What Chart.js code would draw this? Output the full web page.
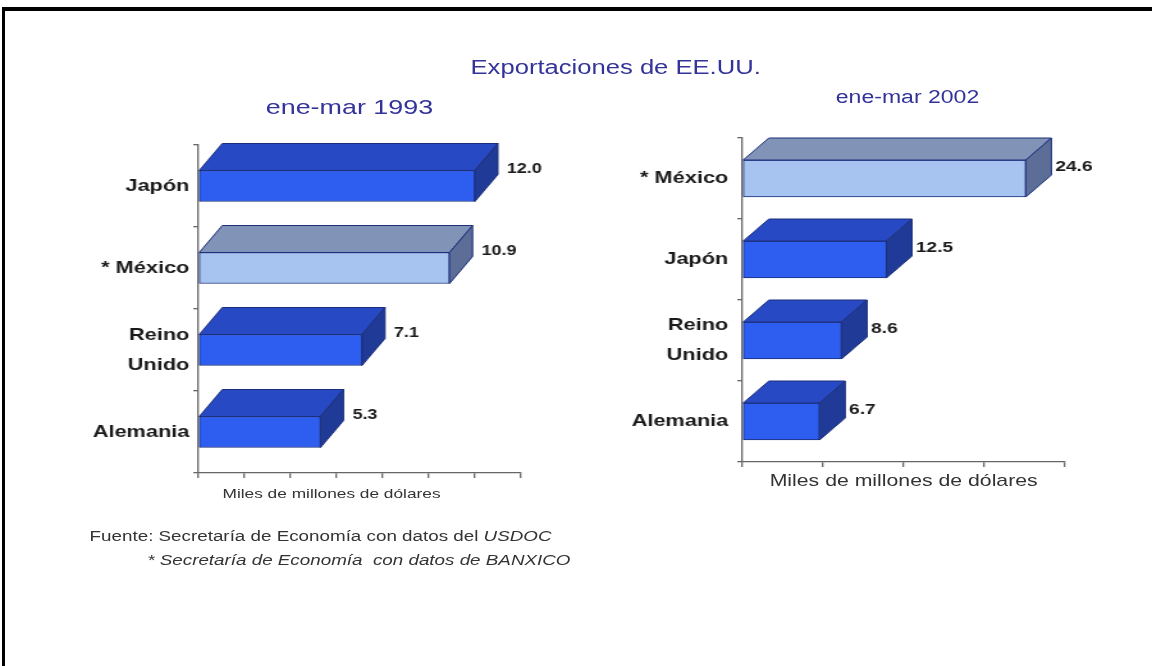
<!DOCTYPE html>
<html>
<head>
<meta charset="utf-8">
<script src="https://cdn.jsdelivr.net/npm/chart.js@4.4.1/dist/chart.umd.min.js"></script>
<style>
  html, body { margin: 0; padding: 0; background: #fff; width: 1152px; height: 666px; overflow: hidden; }
  #frame { position: absolute; left: 2px; top: 7px; width: 1200px; height: 700px;
           border-top: 4px solid #000; border-left: 3px solid #000; }
  /* the source slide is stretched sideways, so the whole stage is too */
  #stage { position: absolute; left: 0; top: 0; width: 900px; height: 666px;
           transform: scaleX(1.28); transform-origin: 0 0;
           font-family: Arial, "Liberation Sans", sans-serif; }
  .txt { position: absolute; white-space: nowrap; transform: translate(-50%, -50%); }
  .left { transform: translate(0, -50%); }
  canvas { position: absolute; }
</style>
</head>
<body>
<div id="frame"></div>
<div id="stage">
  <div class="txt" style="left:481px;top:67px;font-size:20px;color:#333399">Exportaciones de EE.UU.</div>
  <div class="txt" style="left:273px;top:107px;font-size:21px;color:#333399">ene-mar 1993</div>
  <div class="txt" style="left:709px;top:97px;font-size:18px;color:#333399">ene-mar 2002</div>

  <canvas id="chart1993" width="400" height="400" style="left:40px;top:110px"></canvas>
  <canvas id="chart2002" width="420" height="400" style="left:460px;top:100px"></canvas>

  <div class="txt" style="left:259px;top:493px;font-size:13.5px;color:#333">Miles de millones de dólares</div>
  <div class="txt" style="left:706px;top:481px;font-size:16.6px;color:#333">Miles de millones de dólares</div>

  <div class="txt left" style="left:70px;top:536px;font-size:14.7px;color:#333">Fuente: Secretaría de Economía con datos del <i>USDOC</i></div>
  <div class="txt left" style="left:115px;top:560px;font-size:14.7px;color:#333"><i>* Secretaría de Economía &nbsp;con datos de BANXICO</i></div>
</div>

<script>
// ene-mar 1993
const categories1993 = ['Japón', '* México', ['Reino', 'Unido'], 'Alemania'];
const values1993 = [12.0, 10.9, 7.1, 5.3];
const axisMax1993 = 14;
const axisStep1993 = 2;

// ene-mar 2002
const categories2002 = ['* México', 'Japón', ['Reino', 'Unido'], 'Alemania'];
const values2002 = [24.6, 12.5, 8.6, 6.7];
const axisMax2002 = 28;
const axisStep2002 = 7;

const FONT = 'Arial, "Liberation Sans", sans-serif';

// face colours: front, top, side
const blueFaces = ['#2d5ef0', '#2749c4', '#1f3a97'];
const mexFaces = ['#a7c3ef', '#8193b6', '#5c6e97'];
const outline = '#1c2f7a';

function facesFor(label) {
    return String(label).includes('México') ? mexFaces : blueFaces;
}

// draws the top and side faces plus the value label of each bar
const bar3d = {
    id: 'bar3d',
    afterDatasetsDraw(chart, args, opts) {
        const ctx = chart.ctx;
        const meta = chart.getDatasetMeta(0);
        const values = chart.data.datasets[0].data;
        meta.data.forEach((bar, i) => {
            const p = bar.getProps(['x', 'y', 'base', 'height'], true);
            const top = p.y - p.height / 2;
            const bottom = p.y + p.height / 2;
            const f = facesFor(chart.data.labels[i]);
            ctx.save();
            ctx.lineWidth = 1;
            ctx.strokeStyle = outline;
            ctx.lineJoin = 'round';

            ctx.beginPath();
            ctx.moveTo(p.base, top);
            ctx.lineTo(p.x, top);
            ctx.lineTo(p.x + opts.dx, top + opts.dy);
            ctx.lineTo(p.base + opts.dx, top + opts.dy);
            ctx.closePath();
            ctx.fillStyle = f[1];
            ctx.fill();
            ctx.stroke();

            ctx.beginPath();
            ctx.moveTo(p.x, top);
            ctx.lineTo(p.x + opts.dx, top + opts.dy);
            ctx.lineTo(p.x + opts.dx, bottom + opts.dy);
            ctx.lineTo(p.x, bottom);
            ctx.closePath();
            ctx.fillStyle = f[2];
            ctx.fill();
            ctx.stroke();

            ctx.fillStyle = '#1a1a1a';
            ctx.font = 'bold ' + opts.labelSize + 'px ' + FONT;
            ctx.textAlign = 'left';
            ctx.textBaseline = 'middle';
            ctx.fillText(values[i].toFixed(1), p.x + opts.dx + opts.labelGap, top + opts.labelDy);
            ctx.restore();
        });
    }
};

function makeChart(id, cats, vals, max, step, look) {
    const ctx = document.getElementById(id).getContext('2d');
    return new Chart(ctx, {
        type: 'bar',
        data: {
            labels: cats,
            datasets: [{
                data: vals,
                backgroundColor: cats.map(c => facesFor(c)[0]),
                borderColor: outline,
                borderWidth: 1,
                borderSkipped: false,
                barThickness: look.thickness
            }]
        },
        plugins: [bar3d],
        options: {
            indexAxis: 'y',
            responsive: false,
            animation: false,
            layout: { padding: { top: look.padTop, right: look.padRight, left: 0, bottom: 0 } },
            plugins: {
                legend: { display: false },
                tooltip: { enabled: false },
                bar3d: look.depth
            },
            scales: {
                x: {
                    min: 0,
                    max: max,
                    ticks: { display: false, stepSize: step },
                    grid: { drawOnChartArea: false, drawTicks: true, tickLength: 5, color: '#666', lineWidth: 1.3 },
                    border: { color: '#666', width: 1.3 },
                    afterFit(s) { s.height = look.xHeight; }
                },
                y: {
                    ticks: {
                        color: '#1a1a1a',
                        padding: look.labelPad,
                        font: { family: FONT, weight: 'bold', size: 17, lineHeight: 1.75 }
                    },
                    grid: { drawOnChartArea: false, tickLength: 4, color: '#666', lineWidth: 1.3 },
                    border: { color: '#666', width: 1.3 },
                    afterFit(s) { s.width = look.yWidth; }
                }
            }
        }
    });
}

makeChart('chart1993', categories1993, values1993, axisMax1993, axisStep1993, {
    thickness: 31, padTop: 35, padRight: 33, xHeight: 37, yWidth: 115, labelPad: 3,
    depth: { dx: 18, dy: -27, labelGap: 7, labelDy: -1, labelSize: 14 }
});

makeChart('chart2002', categories2002, values2002, axisMax2002, axisStep2002, {
    thickness: 37, padTop: 38, padRight: 48, xHeight: 38, yWidth: 120, labelPad: 7,
    depth: { dx: 20, dy: -22, labelGap: 3, labelDy: 7, labelSize: 15 }
});
</script>
</body>
</html>
